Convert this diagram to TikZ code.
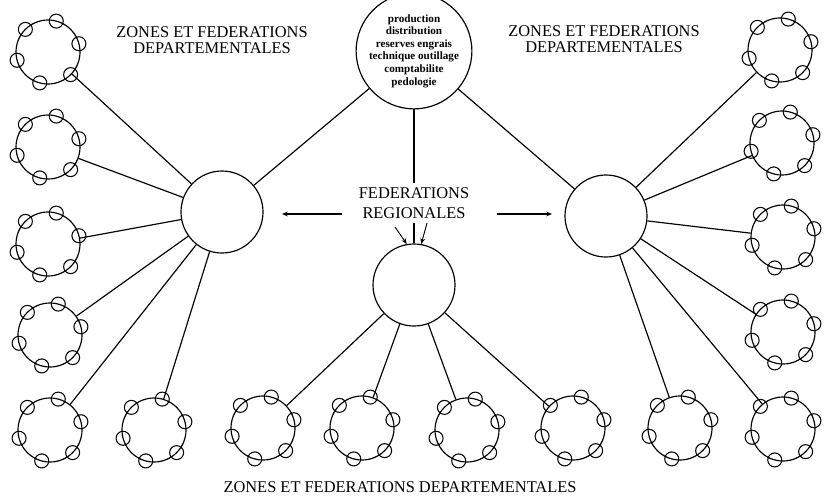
\documentclass[tikz,border=0pt]{standalone}
\usepackage{fontspec}
\setmainfont{Liberation Serif}
\usetikzlibrary{arrows.meta}
\begin{document}
\begin{tikzpicture}
  [x=0.03cm, y=0.03cm, line width=1pt,
   hub/.style={draw, circle, inner sep=0pt, minimum size=2.46cm},
   ring/.style={draw, circle, inner sep=0pt, minimum size=1.92cm},
   caption/.style={font=\fontsize{14}{14}\selectfont, align=center},
   tip/.style={-{Stealth[length=5pt,width=4pt]}}]
  \useasboundingbox (0,0) rectangle (825,-496);
  \node[hub, minimum size=2.76cm, align=center, font=\bfseries\fontsize{9.5}{10.8}\selectfont] (national) at (414,-51)
    {production\\distribution\\reserves engrais\\technique outillage\\comptabilite\\pedologie};
  \node[hub] (regW) at (222,-212) {};
  \node[hub] (regE) at (606,-216) {};
  \node[hub] (regS) at (414,-285) {};
  \node[caption, font=\fontsize{14}{17}\selectfont] (fed) at (414,-203) {FEDERATIONS\\REGIONALES};
  \node[caption] (zoneW) at (212,-40) {ZONES ET FEDERATIONS\\DEPARTEMENTALES};
  \node[caption] (zoneE) at (604,-39) {ZONES ET FEDERATIONS\\DEPARTEMENTALES};
  \node[caption] (zoneS) at (400,-487) {ZONES ET FEDERATIONS DEPARTEMENTALES};
  \foreach \n/\x/\y in {l1/48/52, l2/48/147, l3/48/244, l4/50/335, l5/50/430, l6/154/430,
                        b1/263/428, b2/362/428, b3/467/430, b4/573/428,
                        r1/780/50, r2/782/143, r3/783/237, r4/783/332, r5/783/429, r6/680/428} {
    \node[ring] (\n) at (\x,-\y) {};
    \foreach \a in {15,75,...,315}
      \draw[line width=0.9pt] (\n) +(\a:32) circle (7);
  }
  \foreach \n in {l1,l2,l3,l4,l5,l6} \draw (regW) -- (\n);
  \foreach \n in {r1,r2,r3,r4,r5,r6} \draw (regE) -- (\n);
  \foreach \n in {b1,b2,b3,b4} \draw (regS) -- (\n);
  \draw (national) -- (regW);
  \draw (national) -- (regE);
  \draw (national) -- (fed);
  \draw (fed) -- (regS);
  \coordinate (wa) at (342,-214);
  \coordinate (wb) at (282,-214);
  \coordinate (ea) at (497,-214);
  \coordinate (eb) at (552,-214);
  \coordinate (sa) at (395,-227);
  \coordinate (sb) at (427,-223);
  \draw[tip] (wa) -- (wb);
  \draw[tip] (ea) -- (eb);
  \draw[tip, line width=0.8pt] (sa) -- (regS.100);
  \draw[tip, line width=0.8pt] (sb) -- (regS.80);
\end{tikzpicture}
\end{document}
